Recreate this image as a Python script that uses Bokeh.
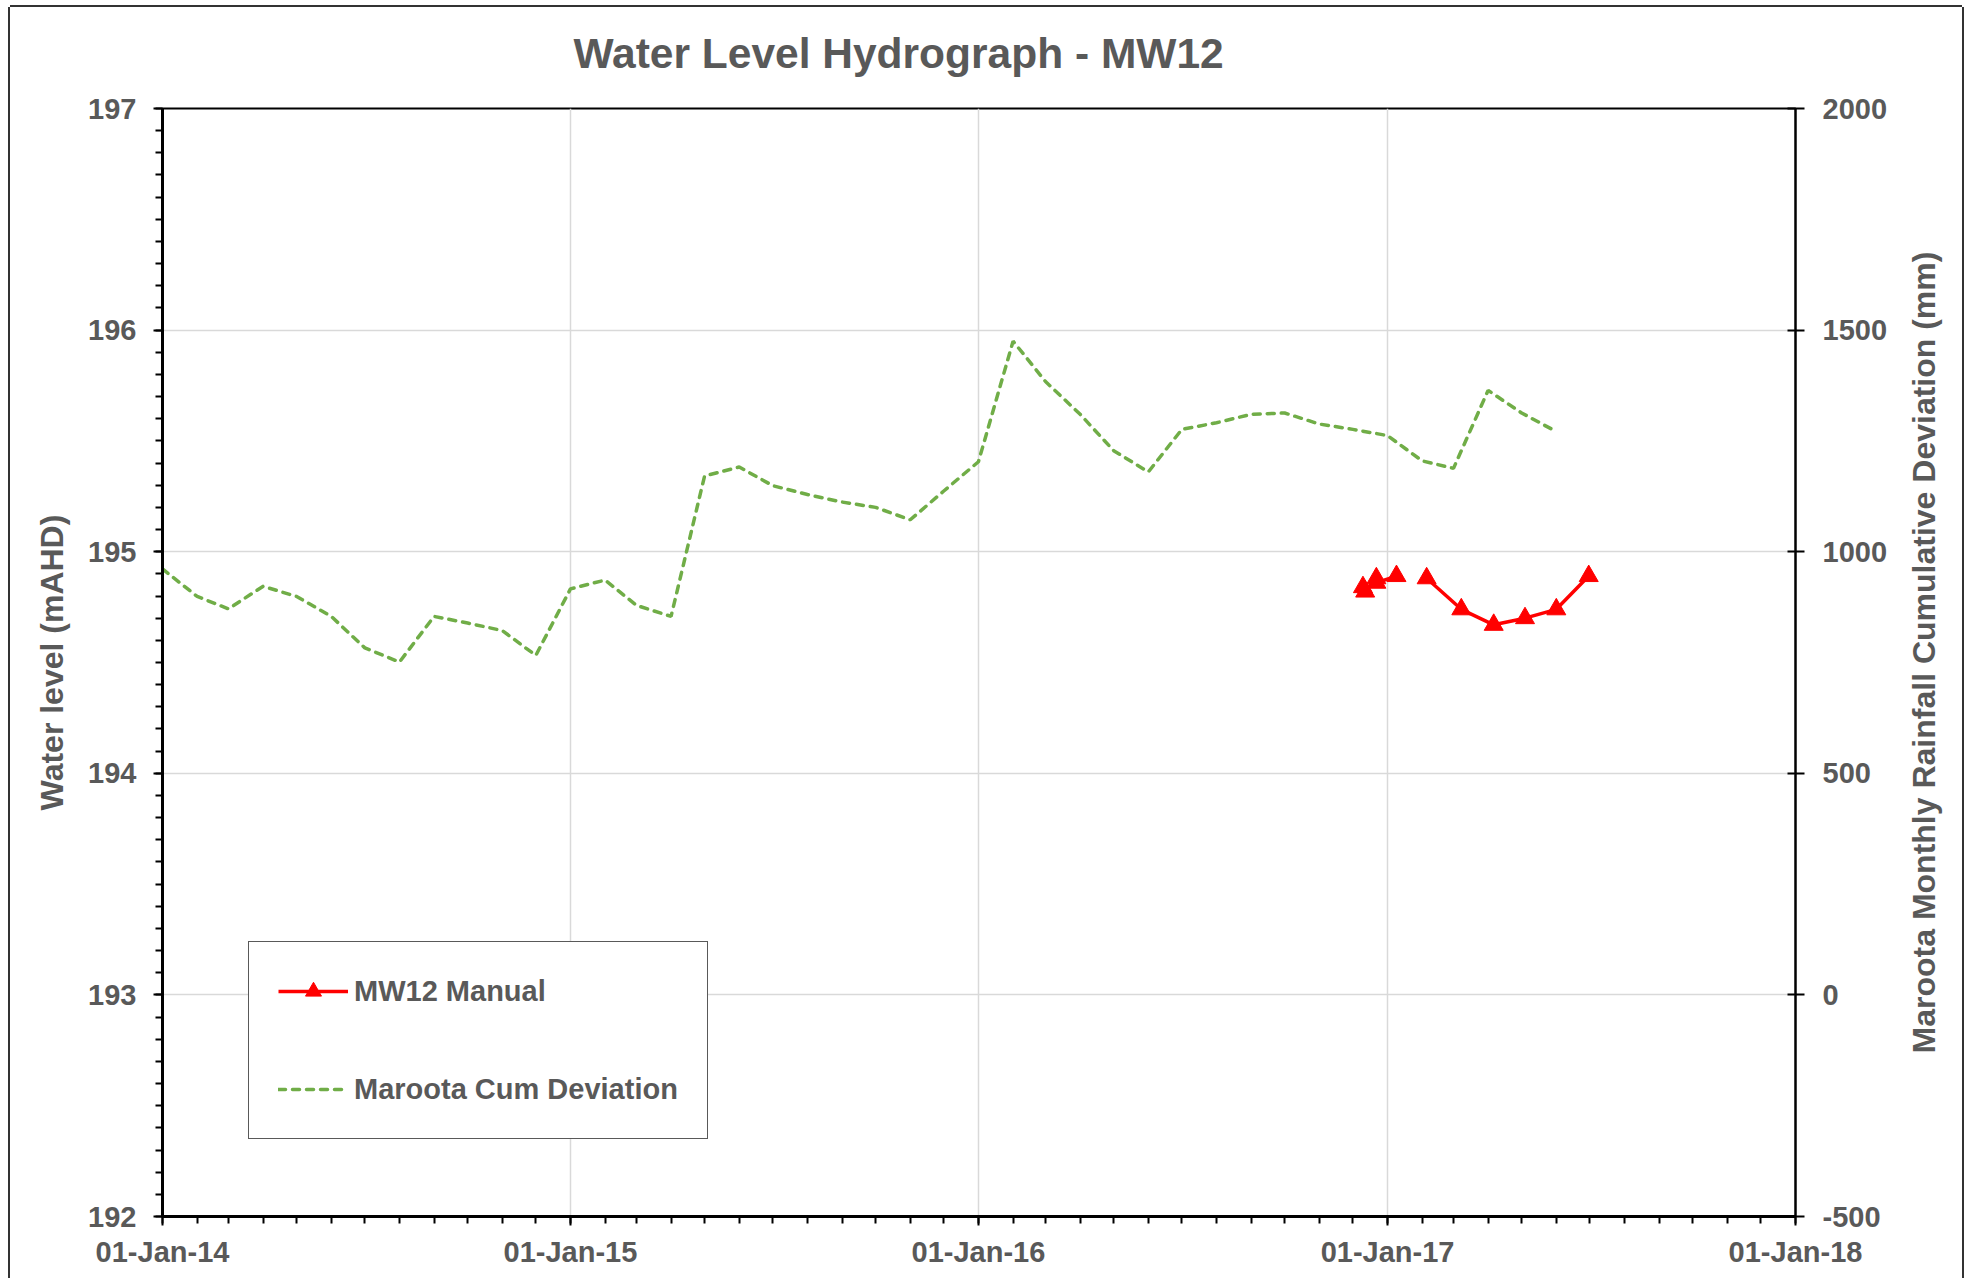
import math
import pandas as pd
from bokeh.plotting import figure
from bokeh.models import (Range1d, LinearAxis, FixedTicker, SingleIntervalTicker,
                          DatetimeTickFormatter, Legend, LegendItem, ColumnDataSource, Label)
from bokeh.embed import file_html
from bokeh.resources import INLINE

# ---------------- data ----------------
dev_dates = pd.date_range("2014-01-01", "2017-06-01", freq="MS")
dev_values = [961, 899, 871, 922, 899, 854, 783, 751, 854, 839, 822, 766,
              916, 936, 879, 854, 1171, 1191, 1149, 1129, 1112, 1100, 1072, 1137,
              1203, 1475, 1384, 1310, 1228, 1180, 1276, 1291, 1310, 1313, 1288, 1276,
              1262, 1205, 1188, 1364, 1313, 1271]

mw_dates = ["2016-12-10", "2016-12-12", "2016-12-22", "2016-12-22", "2017-01-09",
            "2017-02-05", "2017-03-08", "2017-04-06", "2017-05-04", "2017-06-01", "2017-06-30"]
mw_levels = [194.84, 194.82, 194.88, 194.86, 194.89,
             194.88, 194.74, 194.67, 194.70, 194.74, 194.89]
mw_segments = [(0, 5), (5, 11)]  # line breaks between Jan and Feb 2017

year_ticks = ["2014-01-01", "2015-01-01", "2016-01-01", "2017-01-01", "2018-01-01"]
dev_ticks = [-500, 0, 500, 1000, 1500, 2000]

TITLE = "Water Level Hydrograph - MW12"
FONT = "Liberation Sans"
GREY = "#595959"

def ms(d):
    return pd.Timestamp(d).value // 10**6

# ---------------- figure ----------------
p = figure(x_axis_type="datetime",
           x_range=Range1d(pd.Timestamp("2014-01-01"), pd.Timestamp("2018-01-01")),
           y_range=Range1d(192, 197),
           frame_width=1633, frame_height=1108,
           min_border_left=152, min_border_right=167,
           min_border_top=101, min_border_bottom=62,
           output_backend="svg", toolbar_location=None)
p.margin = (7, 0, 0, 10)
p.styles = {"box-shadow": "0 -2px 0 0 #333333, -2px 0 0 0 #333333, 2px 0 0 0 #333333"}
p.background_fill_color = "white"
p.border_fill_color = "white"
p.outline_line_color = "black"
p.outline_line_width = 2
p.title.visible = False

title_label = Label(text=TITLE, x=411, y=55, x_units="screen", y_units="screen",
                    text_align="left", text_baseline="middle",
                    text_font=FONT, text_font_size="42.5px", text_font_style="bold",
                    text_color=GREY)
p.add_layout(title_label, "above")

p.extra_y_ranges = {"dev": Range1d(-500, 2000)}

# x axis
xa = p.xaxis[0]
xa.ticker = FixedTicker(ticks=[ms(d) for d in year_ticks],
                        minor_ticks=[ms(d) for d in pd.date_range("2014-01-01", "2018-01-01", freq="MS")])
fmt = "%d-%b-%y"
xa.formatter = DatetimeTickFormatter(years=fmt, months=fmt, days=fmt, hours=fmt,
                                     minutes=fmt, seconds=fmt, milliseconds=fmt,
                                     microseconds=fmt, minsec=fmt, hourmin=fmt)
xa.major_tick_in = 0
xa.major_tick_out = 9
xa.minor_tick_in = 0
xa.minor_tick_out = 7
xa.major_label_standoff = 10

# left y axis
ya = p.yaxis[0]
ya.ticker = SingleIntervalTicker(interval=1, num_minor_ticks=10)
ya.axis_label = "Water level (mAHD)"
ya.major_tick_in = 0
ya.major_tick_out = 9
ya.minor_tick_in = 0
ya.minor_tick_out = 7
ya.major_label_standoff = 17
ya.axis_label_standoff = 15

# right y axis (label drawn separately so it reads bottom-to-top)
ra = LinearAxis(y_range_name="dev", ticker=FixedTicker(ticks=dev_ticks))
ra.major_label_overrides = {t: str(t) for t in dev_ticks}
ra.major_tick_in = 8
ra.major_tick_out = 9
ra.minor_tick_line_color = None
ra.major_label_standoff = 18
p.add_layout(ra, "right")

for ax, lw in ((xa, 3), (ya, 3), (ra, 2)):
    ax.axis_line_color = "black"
    ax.axis_line_width = lw
    ax.major_tick_line_color = "black"
    ax.major_tick_line_width = 2
    ax.minor_tick_line_width = 2
    ax.major_label_text_font = FONT
    ax.major_label_text_font_size = "29px"
    ax.major_label_text_font_style = "bold"
    ax.major_label_text_color = GREY
    ax.axis_label_text_font = FONT
    ax.axis_label_text_font_size = "32px"
    ax.axis_label_text_font_style = "bold"
    ax.axis_label_text_color = GREY
xa.minor_tick_line_color = "black"
ya.minor_tick_line_color = "black"

right_label = Label(text="Maroota Monthly Rainfall Cumulative Deviation (mm)",
                    x=33, y=564, x_units="screen", y_units="screen",
                    angle=math.pi / 2, text_align="center", text_baseline="middle",
                    text_font=FONT, text_font_size="32px", text_font_style="bold",
                    text_color=GREY)
p.add_layout(right_label, "right")

p.xgrid.grid_line_color = "#D9D9D9"
p.xgrid.grid_line_width = 1.5
p.ygrid.grid_line_color = "#D9D9D9"
p.ygrid.grid_line_width = 1.5

# ---------------- series ----------------
dev_src = ColumnDataSource(dict(date=dev_dates, dev=dev_values))
g = p.line(x="date", y="dev", source=dev_src, y_range_name="dev",
           line_color="#70AD47", line_width=3.5, line_dash="7 7", line_cap="round")

mw_dt = pd.to_datetime(mw_dates)
red_lines = []
for a, b in mw_segments:
    src = ColumnDataSource(dict(date=mw_dt[a:b], level=mw_levels[a:b]))
    red_lines.append(p.line(x="date", y="level", source=src, line_color="#FF0000", line_width=3.5))
mw_src = ColumnDataSource(dict(date=mw_dt, level=mw_levels))
r_pts = p.scatter(x="date", y="level", source=mw_src, marker="triangle", size=19,
                  fill_color="#FF0000", line_color="#FF0000")

legend = Legend(items=[LegendItem(label="MW12 Manual", renderers=[red_lines[0], r_pts]),
                       LegendItem(label="Maroota Cum Deviation", renderers=[g])],
                location=(86, 77), orientation="vertical")
legend.label_text_font = FONT
legend.label_text_font_size = "29px"
legend.label_text_font_style = "bold"
legend.label_text_color = GREY
legend.glyph_width = 70
legend.glyph_height = 40
legend.label_height = 40
legend.label_standoff = 6
legend.spacing = 58
legend.padding = 29
legend.margin = 0
legend.border_line_color = GREY
legend.border_line_alpha = 1
legend.border_line_width = 1.5
legend.background_fill_color = "white"
legend.background_fill_alpha = 1
p.add_layout(legend, "center")

open("out.html", "w").write(file_html(p, INLINE))
